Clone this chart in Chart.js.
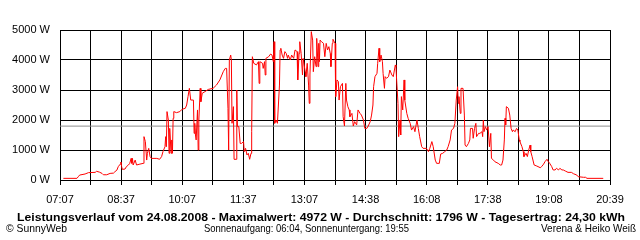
<!DOCTYPE html>
<html>
<head>
<meta charset="utf-8">
<script src="https://cdn.jsdelivr.net/npm/chart.js"></script>
<style>
  html, body { margin: 0; padding: 0; background: #fff; }
</style>
</head>
<body>
<canvas id="power" width="640" height="240"></canvas>
<script>
// time of day in minutes after midnight, power in W
const times = [
  432, 452, 454, 456, 464, 469, 479, 481, 485, 489, 491, 496,
  501, 506, 508, 511, 513, 516, 517, 518, 519, 523, 525, 528,
  530, 532, 533, 534, 535, 538, 540, 545, 550, 551, 553, 555,
  556, 558, 560, 562, 570, 574, 577, 579, 582, 583, 584, 585,
  587, 588, 589, 591, 592, 593, 594, 595, 599, 604, 607, 612,
  614, 616, 618, 620, 624, 625, 626, 627, 628, 630, 631, 632,
  634, 635, 637, 641, 646, 653, 658, 663, 668, 671, 673, 675,
  676, 677, 679, 680, 681, 683, 684, 687, 688, 689, 691, 693,
  695, 698, 699, 701, 703, 705, 707, 709, 710, 711, 713, 717,
  720, 721, 722, 726, 727, 729, 730, 731, 735, 738, 740, 742,
  743, 744, 746, 748, 751, 752, 753, 755, 757, 759, 761, 763,
  764, 767, 769, 772, 774, 777, 778, 780, 781, 783, 785, 786,
  789, 790, 792, 794, 795, 796, 798, 800, 801, 803, 805, 806,
  808, 809, 810, 811, 813, 816, 818, 820, 822, 824, 826, 827,
  829, 830, 833, 834, 836, 838, 839, 841, 844, 845, 847, 849,
  850, 852, 854, 855, 858, 860, 862, 865, 867, 870, 872, 875,
  877, 880, 882, 885, 887, 889, 890, 892, 895, 896, 898, 899,
  901, 903, 904, 906, 907, 909, 912, 914, 917, 919, 922, 923,
  924, 926, 927, 929, 930, 931, 933, 935, 936, 939, 941, 944,
  946, 949, 951, 954, 956, 958, 961, 963, 968, 971, 973, 976,
  978, 981, 983, 987, 989, 992, 995, 998, 1000, 1003, 1005, 1008,
  1010, 1012, 1014, 1015, 1016, 1018, 1019, 1022, 1024, 1025, 1027, 1030,
  1032, 1033, 1036, 1037, 1039, 1041, 1042, 1045, 1047, 1050, 1051, 1052,
  1053, 1055, 1057, 1059, 1061, 1063, 1064, 1067, 1069, 1074, 1077, 1079,
  1081, 1083, 1084, 1085, 1086, 1089, 1091, 1093, 1095, 1096, 1099, 1101,
  1103, 1105, 1106, 1109, 1111, 1112, 1115, 1117, 1119, 1121, 1122, 1124,
  1127, 1131, 1136, 1138, 1141, 1143, 1146, 1148, 1150, 1153, 1155, 1158,
  1160, 1163, 1165, 1168, 1170, 1173, 1177, 1182, 1185, 1190, 1192, 1200,
  1203, 1205, 1229
];
const watts = [
  55, 55, 110, 165, 200, 245, 255, 290, 265, 220, 175, 175,
  220, 230, 275, 330, 445, 530, 600, 445, 355, 365, 445, 500,
  555, 720, 555, 720, 500, 665, 500, 530, 555, 1445, 1280, 665,
  890, 1055, 780, 720, 720, 690, 780, 945, 1110, 1445, 1110, 2280,
  2000, 890, 1720, 890, 1335, 890, 2055, 2280, 2245, 2280, 2355, 2390,
  2500, 2780, 3055, 2665, 2665, 1555, 1890, 1500, 1335, 2335, 1000, 2000,
  3055, 2610, 2890, 2945, 3020, 3055, 3165, 3335, 3610, 3720, 3720, 2390,
  1000, 4000, 4165, 4000, 1890, 2445, 690, 690, 3000, 1780, 1780, 1220,
  1220, 1280, 945, 1055, 835, 890, 690, 890, 1610, 4110, 3890, 3835,
  3945, 3220, 3945, 3890, 3720, 3945, 3500, 4055, 4110, 4200, 4165, 3945,
  4610, 1890, 2000, 1890, 3165, 4335, 4390, 4165, 4055, 4280, 4220, 4055,
  4165, 4000, 4165, 4055, 4335, 4280, 3335, 4220, 4610, 4220, 3500, 4055,
  3610, 3445, 3890, 3165, 2555, 3500, 4945, 4665, 3610, 4110, 3780, 4720,
  3780, 4555, 3945, 4665, 4610, 4555, 4110, 4555, 4335, 4445, 4220, 3780,
  4555, 4690, 4555, 2780, 3335, 3280, 2665, 3110, 3220, 2110, 1800, 3220,
  2665, 2445, 2335, 2110, 2220, 1800, 1945, 1835, 2335, 2220, 2165, 2000,
  1720, 1720, 1800, 1945, 2165, 2500, 3110, 3445, 3555, 3890, 4390, 3945,
  4165, 3945, 3555, 3055, 3445, 3390, 3445, 3665, 3500, 3445, 3835, 3780,
  3335, 2555, 1445, 2000, 1500, 2780, 2335, 3335, 2665, 2220, 2055, 1890,
  1665, 1780, 1610, 2000, 1720, 1445, 1110, 1055, 1055, 945, 1055, 1280,
  1110, 665, 555, 555, 865, 890, 945, 1000, 1110, 1335, 1665, 1720,
  1890, 2665, 3110, 2555, 2780, 2220, 3055, 3055, 2165, 1165, 1110, 1220,
  1335, 1720, 1720, 1390, 1720, 1890, 1445, 1555, 1555, 1610, 1445, 2000,
  1610, 1780, 1665, 1780, 1110, 1555, 720, 665, 610, 555, 500, 500,
  665, 1335, 2055, 1835, 2445, 2390, 2165, 1720, 1610, 1665, 1610, 1720,
  1665, 1335, 1280, 1110, 945, 780, 890, 780, 1000, 1165, 945, 780,
  500, 465, 410, 445, 530, 610, 690, 610, 555, 445, 335, 335,
  390, 335, 390, 335, 335, 300, 255, 255, 210, 165, 110, 90,
  90, 55, 55
];
const average = 1796;
const xMin = 427;   // 07:07
const xMax = 1239;  // 20:39
const xTickLabels = ['07:07', '08:37', '10:07', '11:37', '13:07', '14:38', '16:08', '17:38', '19:08', '20:39'];

const titleText = 'Leistungsverlauf vom 24.08.2008 - Maximalwert: 4972 W - Durchschnitt: 1796 W - Tagesertrag: 24,30 kWh';
const footLeft = '\u00A9 SunnyWeb';
const footMid = 'Sonnenaufgang: 06:04, Sonnenuntergang: 19:55';
const footRight = 'Verena & Heiko Wei\u00DF';

const FONT = '"Liberation Sans", Arial, sans-serif';
Chart.defaults.font.family = FONT;
Chart.defaults.color = '#000';

// 18 grid steps, a label on every second one
const gridCount = (xTickLabels.length - 1) * 2;
const gridValues = [];
for (let i = 0; i <= gridCount; i++) {
  gridValues.push(i === gridCount ? xMax : xMin + i * (xMax - xMin) / gridCount);
}

function fitText(ctx, text, font, x, y, width) {
  ctx.font = font;
  const w = ctx.measureText(text).width;
  ctx.save();
  ctx.translate(x, y);
  ctx.scale(width / w, 1);
  ctx.fillText(text, 0, 0);
  ctx.restore();
}

const captions = {
  id: 'captions',
  afterDraw(chart) {
    const ctx = chart.ctx;
    ctx.save();
    ctx.fillStyle = '#000';
    ctx.textAlign = 'left';
    ctx.textBaseline = 'alphabetic';
    fitText(ctx, titleText, 'bold 11px ' + FONT, 17, 221, 608);
    fitText(ctx, footLeft, '11px ' + FONT, 6, 232, 61);
    fitText(ctx, footMid, '11px ' + FONT, 204, 232, 205);
    fitText(ctx, footRight, '11px ' + FONT, 541, 232, 95);
    ctx.restore();
  }
};

const points = times.map((t, i) => ({ x: t, y: watts[i] }));

new Chart(document.getElementById('power').getContext('2d'), {
  type: 'line',
  data: {
    datasets: [{
      label: 'Leistung',
      data: points,
      borderColor: '#ff0000',
      borderWidth: 1,
      pointRadius: 0,
      tension: 0,
      order: 0
    }, {
      label: 'Durchschnitt',
      data: [{ x: xMin, y: average }, { x: xMax, y: average }],
      borderColor: '#8c8c8c',
      borderWidth: 1,
      pointRadius: 0,
      order: 1
    }]
  },
  options: {
    responsive: false,
    animation: false,
    layout: { padding: { left: 0, right: 30, top: 30, bottom: 0 } },
    plugins: {
      legend: { display: false },
      tooltip: { enabled: false }
    },
    scales: {
      x: {
        type: 'linear',
        min: xMin,
        max: xMax,
        afterBuildTicks(scale) {
          scale.ticks = gridValues.map(v => ({ value: v }));
        },
        afterFit(scale) { scale.height = 60; },
        ticks: {
          autoSkip: false,
          maxRotation: 0,
          padding: 8,
          font: { size: 11 },
          callback: (v, i) => (i % 2 === 0 ? xTickLabels[i / 2] : '')
        },
        grid: { color: '#000', tickColor: '#000', tickLength: 5 },
        border: { color: '#000' }
      },
      y: {
        min: 0,
        max: 5000,
        afterFit(scale) { scale.width = 60; },
        ticks: {
          stepSize: 1000,
          padding: 10,
          font: { size: 11 },
          callback: v => v + ' W'
        },
        grid: { color: '#000', drawTicks: false },
        border: { color: '#000' }
      }
    }
  },
  plugins: [captions]
});
</script>
</body>
</html>
